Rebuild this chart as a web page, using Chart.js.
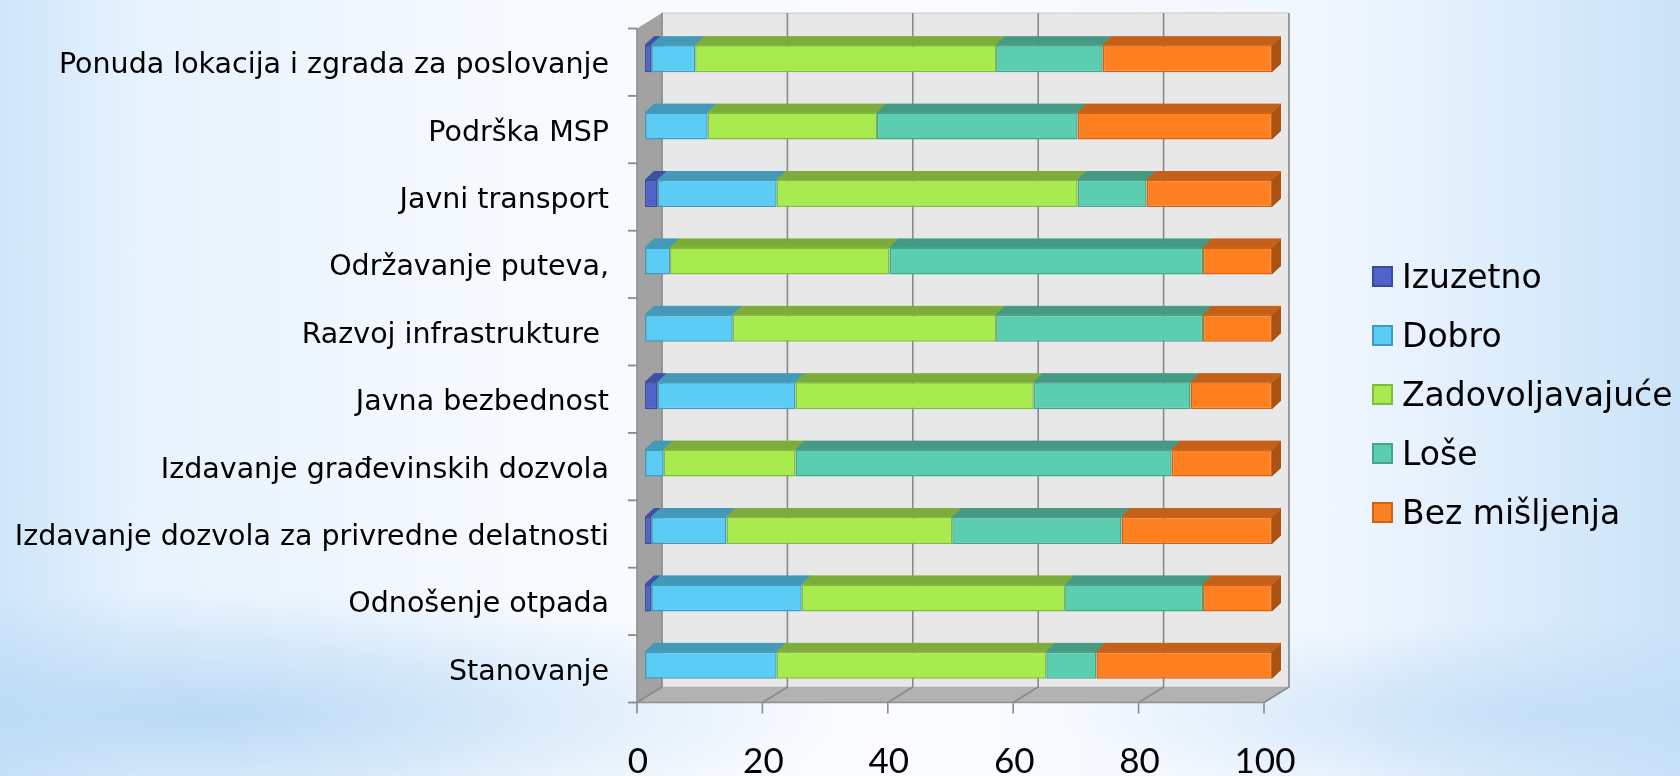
<!DOCTYPE html>
<html>
<head>
<meta charset="utf-8">
<script src="https://cdn.jsdelivr.net/npm/chart.js@4/dist/chart.umd.min.js"></script>
<style>
  html, body { margin: 0; padding: 0; }
  body {
    width: 1680px; height: 776px; overflow: hidden; position: relative;
    background:
      radial-gradient(ellipse 38% 16% at 12% 92%, rgba(178,214,244,0.85), rgba(178,214,244,0) 100%),
      radial-gradient(ellipse 30% 12% at 93% 92%, rgba(190,220,246,0.8), rgba(190,220,246,0) 100%),
      linear-gradient(to right, #cfe6fa 0%, #e6f2fd 8%, #f6fafe 30%, #fafcff 55%, #eff6fe 80%, #cae3f8 100%);
  }
  #wrap { position: absolute; left: 0; top: 0; width: 1680px; height: 776px; }
  #legend { position: absolute; left: 1372px; top: 247px; font-family: "DejaVu Sans", sans-serif; font-size: 33px; color: #000; }
  .item { height: 59px; display: flex; align-items: center; white-space: nowrap; }
  .sw { width: 17px; height: 17px; border: 2px solid; margin-right: 9px; flex: none; }
</style>
</head>
<body>
<div id="wrap"><canvas id="c" width="1680" height="776"></canvas></div>
<div id="legend"></div>
<script>
const categories = [
  'Ponuda lokacija i zgrada za poslovanje',
  'Podrška MSP',
  'Javni transport',
  'Održavanje puteva,',
  'Razvoj infrastrukture ',
  'Javna bezbednost',
  'Izdavanje građevinskih dozvola',
  'Izdavanje dozvola za privredne delatnosti',
  'Odnošenje otpada',
  'Stanovanje'
];
const seriesNames = ['Izuzetno', 'Dobro', 'Zadovoljavajuće', 'Loše', 'Bez mišljenja'];
const izuzetno = [1, 0, 2, 0, 0, 2, 0, 1, 1, 0];
const dobro = [7, 10, 19, 4, 14, 22, 3, 12, 24, 21];
const zadovoljavajuce = [48, 27, 48, 35, 42, 38, 21, 36, 42, 43];
const lose = [17, 32, 11, 50, 33, 25, 60, 27, 22, 8];
const bezMisljenja = [27, 31, 20, 11, 11, 13, 16, 24, 11, 28];
const xTicks = [0, 20, 40, 60, 80, 100];

const frontColors = ['#4f63c9', '#5bccf3', '#a8eb4f', '#5cceb0', '#ff8020'];
const borderColors = ['#3a4a9e', '#3f9bbf', '#7fbd3a', '#43a68b', '#cf6416'];
const topColors = ['#3d4fa6', '#4399b7', '#7eac3a', '#469a84', '#c4601a'];
const sideColor = '#a95212';

const seriesValues = [izuzetno, dobro, zadovoljavajuce, lose, bezMisljenja];

const threeD = {
  id: 'threeD',
  beforeDatasetsDraw(chart) {
    const { ctx, chartArea: ca, scales: { x, y } } = chart;
    const F = { dx: -8, dy: 3.5 }, B = { dx: 17, dy: -12 };
    const x0 = x.getPixelForValue(0), x1 = x.getPixelForValue(100);
    const top = ca.top, bot = ca.bottom;
    const poly = (pts, fill, stroke, lw) => {
      ctx.beginPath();
      ctx.moveTo(pts[0][0], pts[0][1]);
      for (let i = 1; i < pts.length; i++) ctx.lineTo(pts[i][0], pts[i][1]);
      ctx.closePath();
      if (fill) { ctx.fillStyle = fill; ctx.fill(); }
      if (stroke) { ctx.strokeStyle = stroke; ctx.lineWidth = lw || 1; ctx.stroke(); }
    };
    ctx.save();
    // back wall
    poly([[x0 + B.dx, top + B.dy], [x1 + B.dx, top + B.dy], [x1 + B.dx, bot + B.dy], [x0 + B.dx, bot + B.dy]], '#e8e8e8', '#c8c8c8', 1);
    // left side wall
    poly([[x0 + F.dx, top + F.dy], [x0 + B.dx, top + B.dy], [x0 + B.dx, bot + B.dy], [x0 + F.dx, bot + F.dy]], '#a2a2a2');
    // floor
    poly([[x0 + F.dx, bot + F.dy], [x0 + B.dx, bot + B.dy], [x1 + B.dx, bot + B.dy], [x1 + F.dx, bot + F.dy]], '#b2b2b2');
    // gridlines on wall and floor
    ctx.strokeStyle = '#8a8a8a';
    ctx.lineWidth = 1.6;
    xTicks.forEach(v => {
      const px = x.getPixelForValue(v);
      ctx.beginPath();
      ctx.moveTo(px + B.dx, top + B.dy);
      ctx.lineTo(px + B.dx, bot + B.dy);
      ctx.lineTo(px + F.dx, bot + F.dy);
      ctx.lineTo(px + F.dx, bot + F.dy + 11);
      ctx.stroke();
    });
    // front floor edge and left axis line
    ctx.strokeStyle = '#8f8f8f';
    ctx.beginPath();
    ctx.moveTo(x0 + F.dx, bot + F.dy);
    ctx.lineTo(x1 + F.dx, bot + F.dy);
    ctx.moveTo(x0 + F.dx, top + F.dy);
    ctx.lineTo(x0 + F.dx, bot + F.dy);
    ctx.stroke();
    // category tick marks
    ctx.strokeStyle = '#8a8a8a';
    ctx.lineWidth = 1.8;
    for (let k = 0; k <= categories.length; k++) {
      const yy = y.getPixelForValue(k - 0.5) + F.dy;
      ctx.beginPath();
      ctx.moveTo(x0 + F.dx - 9, yy);
      ctx.lineTo(x0 + F.dx, yy);
      ctx.stroke();
    }
    // bar depth faces
    const bd = { dx: 9, dy: -8.5 };
    const n = chart.data.datasets.length;
    const lastMeta = chart.getDatasetMeta(n - 1);
    lastMeta.data.forEach(el => {
      const r = Math.max(el.x, el.base), t = el.y - el.height / 2, b = el.y + el.height / 2;
      poly([[r, t], [r + bd.dx, t + bd.dy], [r + bd.dx, b + bd.dy], [r, b]], sideColor);
    });
    for (let d = 0; d < n; d++) {
      const meta = chart.getDatasetMeta(d);
      meta.data.forEach(el => {
        const l = Math.min(el.x, el.base), r = Math.max(el.x, el.base);
        if (r - l < 0.5) return;
        const t = el.y - el.height / 2;
        poly([[l, t], [l + bd.dx, t + bd.dy], [r + bd.dx, t + bd.dy], [r, t]], topColors[d], topColors[d], 1);
      });
    }
    ctx.restore();
  }
};

new Chart(document.getElementById('c'), {
  type: 'bar',
  data: {
    labels: categories,
    datasets: seriesNames.map((name, i) => ({
      label: name,
      data: seriesValues[i],
      backgroundColor: frontColors[i],
      borderColor: borderColors[i],
      borderWidth: 1.5,
      borderSkipped: false,
      barPercentage: 0.4,
      categoryPercentage: 1
    }))
  },
  options: {
    indexAxis: 'y',
    responsive: false,
    animation: false,
    layout: { padding: { left: 0, top: 25, right: 408, bottom: 0 } },
    plugins: { legend: { display: false }, tooltip: { enabled: false } },
    scales: {
      x: {
        stacked: true,
        min: 0, max: 100,
        afterFit(s) { s.height = 77; s.paddingLeft = 0; s.paddingRight = 0; },
        grid: { display: false, drawTicks: false },
        border: { display: false },
        ticks: {
          stepSize: 20,
          labelOffset: -7,
          padding: 42,
          color: '#000',
          font: { family: 'Lato', size: 35 }
        }
      },
      y: {
        stacked: true,
        afterFit(s) { s.width = 645; s.paddingTop = 0; s.paddingBottom = 0; },
        grid: { display: false, drawTicks: false },
        border: { display: false },
        ticks: {
          padding: 36,
          labelOffset: 7,
          color: '#000',
          font: { family: 'DejaVu Sans', size: 28.5 }
        }
      }
    }
  },
  plugins: [threeD]
});

const legend = document.getElementById('legend');
seriesNames.forEach((name, i) => {
  const item = document.createElement('div');
  item.className = 'item';
  const sw = document.createElement('span');
  sw.className = 'sw';
  sw.style.background = frontColors[i];
  sw.style.borderColor = borderColors[i];
  const tx = document.createElement('span');
  tx.textContent = name;
  item.appendChild(sw);
  item.appendChild(tx);
  legend.appendChild(item);
});
</script>
</body>
</html>
